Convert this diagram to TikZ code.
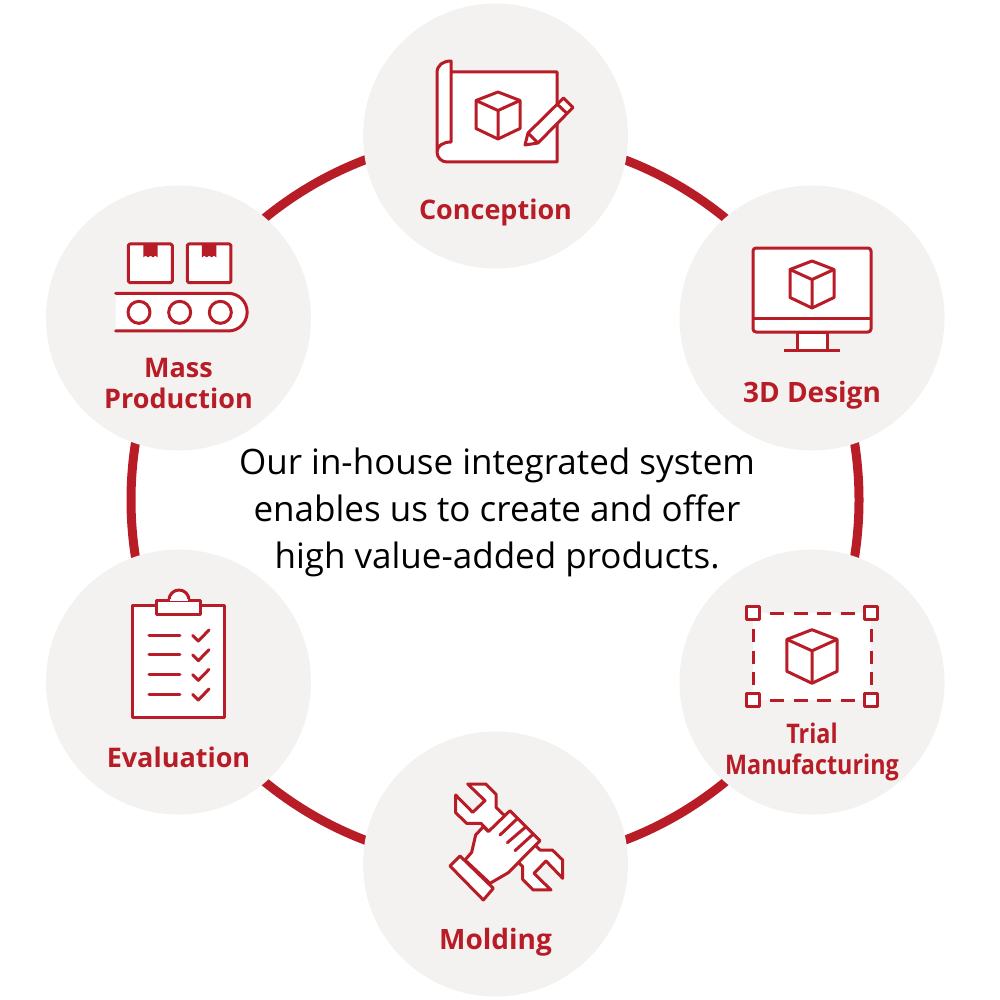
\documentclass[tikz,border=0pt]{standalone}
\usepackage{fontspec}
\setmainfont{Open Sans}
\definecolor{brandred}{HTML}{B81C26}
\definecolor{discgray}{HTML}{F3F2F0}
\tikzset{
    disc/.style={circle,fill=discgray,minimum size=265pt,inner sep=0pt},
    steplabel/.style={text=brandred,font=\bfseries\fontsize{27}{31}\selectfont,align=center},
    icon/.style={draw=brandred,line width=3pt,line join=round,fill=white},
    iconline/.style={draw=brandred,line width=3pt,line join=round},
    pics/cube/.style={code={
        \draw[icon] (0,-23.5) -- (22,-15) -- (22,13) -- (0,23.5) -- (-22,13) -- (-22,-15) -- cycle;
        \draw[iconline] (-22,-15) -- (0,-5) -- (22,-15) (0,-5) -- (0,23.5);
    }}
}
\begin{document}
\begin{tikzpicture}[x=1pt,y=-1pt]
    \useasboundingbox (0,0) rectangle (1000,1000);
    % centro
    \coordinate (O) at (495,500);

    % anello
    \draw[line width=9pt,brandred] (O) circle (364);

    % dischi
    \node[disc] (conception) at (495.5,136) {};
    \node[disc] (design) at (812,318) {};
    \node[disc] (trial) at (812,682) {};
    \node[disc] (molding) at (495.5,864) {};
    \node[disc] (evaluation) at (178.5,682) {};
    \node[disc] (massprod) at (178.5,318) {};

    % testo centrale
    \node[align=center,font=\fontsize{35}{47}\selectfont] (claim) at (497,512)
        {Our in-house integrated system\\enables us to create and offer\\high value-added products.};

    % etichette
    \node[steplabel] (conceptionlabel) at (495.5,212) {Conception};
    \node[steplabel,font=\bfseries\fontsize{28}{31}\selectfont] (designlabel) at (812,395) {3D Design};
    \node[steplabel] (triallabel) at (812,752) {\scalebox{0.865}[1]{Trial}\\\scalebox{0.865}[1]{Manufacturing}};
    \node[steplabel,font=\bfseries\fontsize{28}{31}\selectfont] (moldinglabel) at (495.5,942) {Molding};
    \node[steplabel] (evaluationlabel) at (178.5,757) {Evaluation};
    \node[steplabel] (massprodlabel) at (178.5,383) {Mass\\Production};

    % progetto e matita
    \draw[icon] (451,72) -- (557,72) -- (557,162) -- (447,162)
        arc[start angle=90,end angle=180,radius=10] -- (437,73)
        .. controls (437,65) and (443,61) .. (451,61) -- (451,142)
        .. controls (443,142) and (437,146) .. (437,152);
    \draw[icon] (525,145) -- (528,133) -- (563.5,98) -- (573,107.5) -- (538,143) -- cycle;
    \draw[iconline] (528,133) -- (538,143) (557,104) -- (567,113.5);
    \pic at (498,115.5) {cube};

    % monitor
    \draw[icon] (797,332) rectangle (827,350);
    \draw[iconline] (784,350) -- (840,350);
    \draw[icon,rounded corners=3pt] (753,248) rectangle (871,332);
    \draw[iconline] (753,318) -- (871,318);
    \pic at (812,284.5) {cube};

    % prototipo
    \fill[white] (753,613) rectangle (871,700);
    \foreach \xa in {770,793.5,817,840.5} {
        \draw[iconline] (\xa,613) -- ++(14,0);
        \draw[iconline] (\xa,700) -- ++(14,0);
    }
    \foreach \ya in {629,650.5,672} {
        \draw[iconline] (753,\ya) -- ++(0,13);
        \draw[iconline] (871,\ya) -- ++(0,13);
    }
    \foreach \xa/\ya in {753/613,871/613,753/700,871/700}
        \draw[icon] (\xa-6.2,\ya-6.2) rectangle (\xa+6.2,\ya+6.2);
    \pic[scale=1.14] at (812,656.5) {cube};

    % chiave e mano
    \begin{scope}[shift={(420,770)},x=0.3333pt,y=-0.3333pt]
        \draw[icon] (143,42) -- (197,42) -- (228,73) -- (228,112) -- (360,240) -- (397,240)
            -- (428,270) -- (428,325) -- (378,273) -- (342,310) -- (393,360) -- (340,360)
            -- (308,328) -- (308,290) -- (183,160) -- (140,160) -- (107,128) -- (107,75)
            -- (158,127) -- (195,92) -- cycle;
        \draw[icon] (135,270) -- (155,247) -- (167,195) -- (190,170) -- (205,185) -- (270,122)
            -- (360,212) -- (265,308) -- (210,340) -- cycle;
        \draw[icon] (120,258) -- (220,355) -- (190,390) -- (90,288) -- cycle;
        \draw[iconline,line cap=round] (293,145) -- (240,195) (318,170) -- (262,218) (340,192) -- (285,242);
    \end{scope}

    % valutazione
    \begin{scope}[shift={(120,580)},x=0.3333pt,y=-0.3333pt]
        \draw[icon] (37,77) rectangle (315,412);
        \draw[icon] (147,60) arc[start angle=180,end angle=360,radius=30];
        \draw[icon] (110,60) rectangle (243,102);
        \fill[white] (151,64) rectangle (203,56);
        \foreach \ya in {166,225,284,343} {
            \draw[iconline,line cap=round] (87,\ya) -- (180,\ya);
            \draw[iconline,line cap=round] (218,\ya) -- ++(17,17) -- ++(32,-33);
        }
    \end{scope}

    % produzione di massa
    \begin{scope}[shift={(100,230)},x=0.3333pt,y=-0.3333pt]
        \draw[icon,rounded corners=1.5pt] (85,42) rectangle (217,158);
        \draw[icon,rounded corners=1.5pt] (262,42) rectangle (393,158);
        \foreach \xa in {130,306}
            \fill[brandred] (\xa,42) -- ++(43,0) -- ++(0,40) -- ++(-7,-5) -- ++(-7,5) -- ++(-7,-5)
                -- ++(-8,5) -- ++(-7,-5) -- ++(-7,5) -- cycle;
        \fill[white] (47,190) -- (385,190) arc[start angle=-90,end angle=90,radius=56.5] -- (47,303) -- cycle;
        \draw[iconline,line cap=round] (47,190) -- (385,190) arc[start angle=-90,end angle=90,radius=56.5] -- (47,303);
        \foreach \xa in {117,239,361}
            \draw[iconline] (\xa,247) circle (33);
    \end{scope}
\end{tikzpicture}
\end{document}
